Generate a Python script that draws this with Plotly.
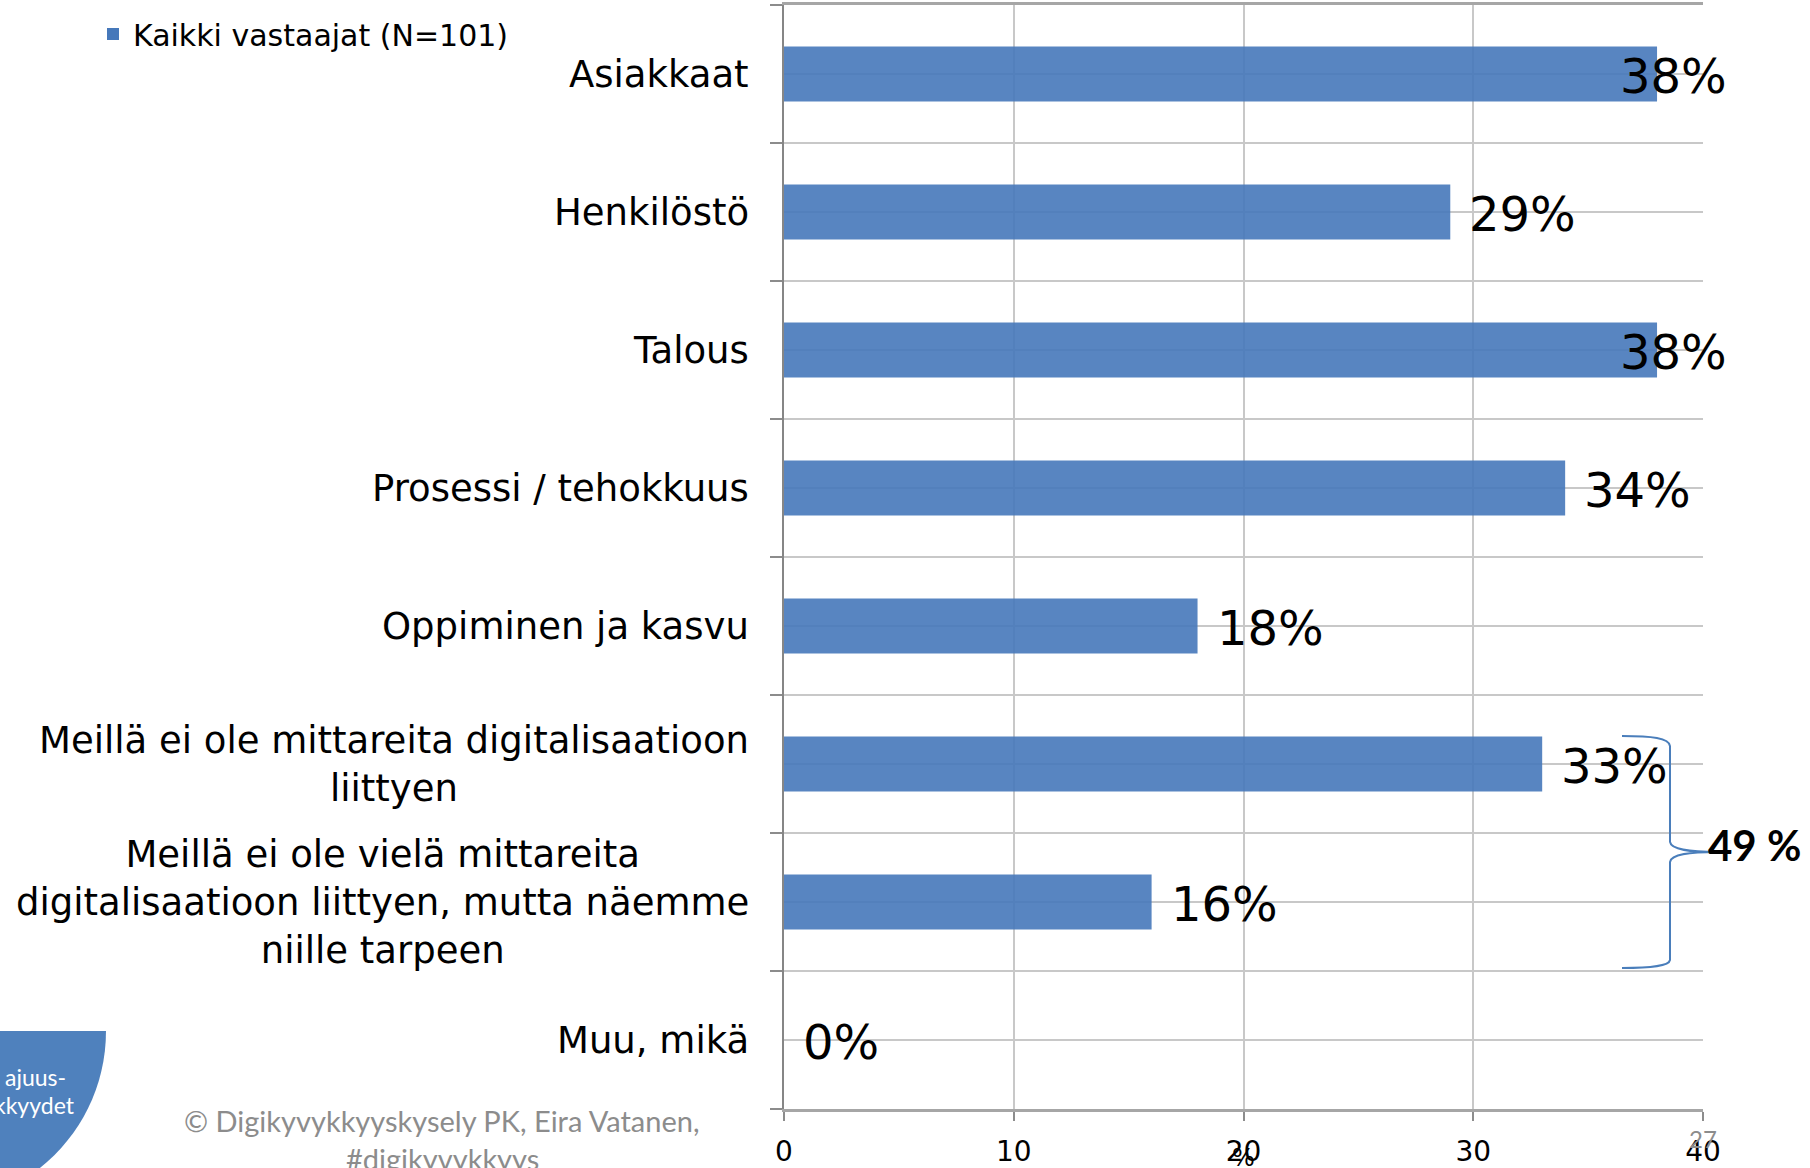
import plotly.graph_objects as go

# ---------------- data ----------------
categories = [
    "Asiakkaat",
    "Henkilöstö",
    "Talous",
    "Prosessi / tehokkuus",
    "Oppiminen ja kasvu",
    "Meillä ei ole mittareita digitalisaatioon<br>liittyen",
    "Meillä ei ole vielä mittareita<br>digitalisaatioon liittyen, mutta näemme<br>niille tarpeen",
    "Muu, mikä",
]
values = [38, 29, 38, 34, 18, 33, 16, 0]
series_name = "Kaikki vastaajat (N=101)"
x_ticks = [0, 10, 20, 30, 40]
brace_label = "49 %"
footer_lines = ["© Digikyvykkyyskysely PK, Eira Vatanen,", "#digikyvykkyys"]
corner_lines = ["ajuus-", "kkyydet"]

# ---------------- layout geometry (pixels) ----------------
W, H = 1810, 1168
ML, MR, MT, MB = 784, 107, 5, 59
PW, PH = W - ML - MR, H - MT - MB
XMAX = 40


def px(x, y):
    return (x - ML) / PW, 1 - (y - MT) / PH


def path_from(points_cmds):
    out = []
    for cmd, pts in points_cmds:
        s = cmd
        s += " ".join("%.5f,%.5f" % px(a, b) for a, b in pts)
        out.append(s)
    return " ".join(out)


idx = list(range(len(categories)))
BLUE = "rgb(70,120,186)"

fig = go.Figure()
fig.add_trace(go.Bar(
    y=idx, x=values, orientation="h", width=0.4,
    name=series_name,
    marker=dict(color=BLUE, opacity=0.9, line=dict(width=0)),
    showlegend=True,
))

annotations = []
# category labels
lab_x = px(751, 0)[0]
for i, c in zip(idx, categories):
    annotations.append(dict(
        x=lab_x, xref="paper", y=i, yref="y", text=c, showarrow=False,
        xanchor="right", yanchor="middle", align="center",
        font=dict(family="DejaVu Sans", size=37, color="#000000"),
    ))

# value labels (kept inside a right-hand limit as in the original)
LABEL_GAP = 17
LABEL_MAX_LEFT = 1618
for i, v in zip(idx, values):
    bar_end = ML + v * PW / XMAX
    start = min(bar_end + LABEL_GAP, LABEL_MAX_LEFT)
    annotations.append(dict(
        x=v, xref="x", y=i, yref="y", text=f"{v}%", showarrow=False,
        xanchor="left", yanchor="middle", xshift=start - bar_end, yshift=-2,
        font=dict(family="DejaVu Sans", size=48, color="#000000"),
    ))

# brace label
bx, by = px(1706, 845)
annotations.append(dict(
    x=bx, y=by, xref="paper", yref="paper", text=f"<b>{brace_label}</b>",
    showarrow=False, xanchor="left", yanchor="middle",
    font=dict(family="Lato", size=42, color="#000000"),
))

# footer
for j, t in enumerate(footer_lines):
    fx, fy = px(442, 1120 + j * 38)
    annotations.append(dict(
        x=fx, y=fy, xref="paper", yref="paper", text=t, showarrow=False,
        xanchor="center", yanchor="middle",
        font=dict(family="Lato", size=29, color="#8C8C8C"),
    ))

# "%" axis title and slide number
tx, ty = px(1243, 1158)
annotations.append(dict(x=tx, y=ty, xref="paper", yref="paper", text="%",
                        showarrow=False, xanchor="center", yanchor="middle",
                        font=dict(family="DejaVu Sans", size=24, color="#000000")))
sx, sy = px(1703, 1138)
annotations.append(dict(x=sx, y=sy, xref="paper", yref="paper", text="27",
                        showarrow=False, xanchor="center", yanchor="middle",
                        font=dict(family="Lato", size=24, color="#8C8C8C")))

# corner circle text
for j, (t, right) in enumerate(zip(corner_lines, [68, 77])):
    cx_, cy_ = px(right, 1077 + j * 28)
    annotations.append(dict(x=cx_, y=cy_, xref="paper", yref="paper", text=t,
                            showarrow=False, xanchor="right", yanchor="middle",
                            font=dict(family="Lato", size=23, color="#FFFFFF")))

shapes = []
# quarter circle in the lower-left corner
ccx, ccy, r = -69, 1031, 175
k = 0.5523 * r
circle_path = path_from([
    ("M", [(ccx, ccy)]),
    ("L", [(ccx + r, ccy)]),
    ("C", [(ccx + r, ccy + k), (ccx + k, ccy + r), (ccx, ccy + r)]),
    ("Z", []),
])
shapes.append(dict(type="path", xref="paper", yref="paper", path=circle_path,
                   fillcolor="#4F81BD", line=dict(width=0), layer="below"))

# brace
brace_path = path_from([
    ("M", [(1622, 736)]),
    ("C", [(1652, 736), (1669, 738), (1670, 746)]),
    ("L", [(1670, 842)]),
    ("C", [(1671, 850), (1690, 852), (1718, 852)]),
    ("M", [(1718, 852)]),
    ("C", [(1690, 852), (1671, 854), (1670, 862)]),
    ("L", [(1670, 960)]),
    ("C", [(1669, 966), (1652, 968), (1622, 968)]),
])
shapes.append(dict(type="path", xref="paper", yref="paper", path=brace_path,
                   line=dict(color="#4A7EBB", width=2), layer="above"))

lx, ly = px(93, 8)
fig.update_layout(
    width=W, height=H,
    margin=dict(l=ML, r=MR, t=MT, b=MB, autoexpand=False),
    paper_bgcolor="white", plot_bgcolor="white",
    showlegend=True,
    legend=dict(x=lx, y=ly, xanchor="left", yanchor="top", xref="paper", yref="paper",
                font=dict(family="DejaVu Sans", size=30, color="#000000"),
                bgcolor="rgba(0,0,0,0)", borderwidth=0),
    xaxis=dict(range=[0, XMAX], tickvals=x_ticks, ticktext=[str(t) for t in x_ticks],
               showgrid=True, gridcolor="#C8C8C8", gridwidth=2,
               ticks="outside", ticklen=9, tickcolor="#8C8C8C", tickwidth=2,
               showline=True, linecolor="#A6A6A6", linewidth=3, mirror=True,
               ticklabelstandoff=6,
               tickfont=dict(family="DejaVu Sans", size=28, color="#000000"),
               zeroline=False, fixedrange=True, automargin=False),
    yaxis=dict(range=[7.5, -0.5], tickvals=idx, showticklabels=False,
               showgrid=True, gridcolor="#C8C8C8", gridwidth=2, ticks="",
               showline=True, linecolor="#868686", linewidth=2,
               zeroline=False, fixedrange=True, automargin=False,
               minor=dict(tick0=0.5, dtick=1, showgrid=True, gridcolor="#C8C8C8",
                          gridwidth=2, ticks="outside", ticklen=12,
                          tickcolor="#8C8C8C", tickwidth=2)),
    annotations=annotations,
    shapes=shapes,
)

fig.write_html("out.html", config={"displayModeBar": False},
               post_script="document.body.style.margin='0';document.body.style.overflow='hidden';")
